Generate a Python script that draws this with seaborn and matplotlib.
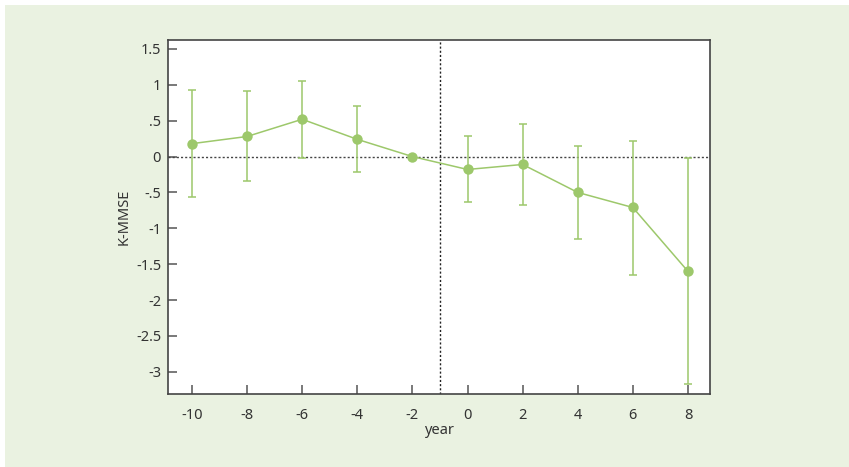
import matplotlib
matplotlib.use("Agg")
import matplotlib.pyplot as plt
import seaborn as sns
import pandas as pd
import numpy as np
from matplotlib.patches import Rectangle

years = [-10, -8, -6, -4, -2, 0, 2, 4, 6, 8]
kmmse = [0.18, 0.28, 0.52, 0.24, 0.0, -0.18, -0.11, -0.50, -0.71, -1.60]
ci_low = [-0.57, -0.34, -0.02, -0.22, 0.0, -0.64, -0.68, -1.15, -1.65, -3.17]
ci_high = [0.93, 0.91, 1.06, 0.70, 0.0, 0.29, 0.46, 0.15, 0.22, -0.02]

yticks = [1.5, 1, 0.5, 0, -0.5, -1, -1.5, -2, -2.5, -3]
ytick_labels = ["1.5", "1", ".5", "0", "-.5", "-1", "-1.5", "-2", "-2.5", "-3"]
xticks = [-10, -8, -6, -4, -2, 0, 2, 4, 6, 8]
xtick_labels = ["-10", "-8", "-6", "-4", "-2", "0", "2", "4", "6", "8"]

sns.set_theme(style="ticks")
plt.rcParams['font.family'] = ['Noto Sans', 'DejaVu Sans']

GREEN_BG = "#EAF2E1"
LINE = "#9DC86B"

fig = plt.figure(figsize=(8.49, 4.67), dpi=100)
fig.patch.set_facecolor("white")
fig.patches.append(Rectangle((5/849, 0), 1, 1 - 5/467, transform=fig.transFigure,
                             facecolor=GREEN_BG, edgecolor="none", zorder=-10))
ax = fig.add_axes([168/849, 1 - 394/467, (710-168)/849, (394-40)/467])
ax.set_facecolor("white")

df = pd.DataFrame({"year": years, "K-MMSE": kmmse})
yerr = np.array([np.array(kmmse) - np.array(ci_low), np.array(ci_high) - np.array(kmmse)])
ax.errorbar(years, kmmse, yerr=yerr, fmt="none", ecolor=LINE, elinewidth=1.1,
            capsize=2.8, capthick=1.1, zorder=2)
sns.lineplot(data=df, x="year", y="K-MMSE", ax=ax, color=LINE, linewidth=1.1,
             marker="o", markersize=7.5, markeredgewidth=0, zorder=3)

ax.axhline(0, color="#444444", linestyle=(0, (1.5, 1.5)), linewidth=1, zorder=1)
ax.axvline(-1, color="#222222", linestyle=(0, (1.5, 1.5)), linewidth=1, zorder=1)

ax.set_xlim(-10.87, 8.8)
ax.set_ylim(-3.31, 1.625)
ax.set_yticks(yticks)
ax.set_yticklabels(ytick_labels)
ax.set_xticks(xticks)
ax.set_xticklabels(xtick_labels)
ax.tick_params(direction="in", length=6.5, width=1.1, color="#555555",
               labelsize=10.5, labelcolor="#333333")
ax.tick_params(axis="x", pad=10)
ax.tick_params(axis="y", pad=5)
for s in ax.spines.values():
    s.set_color("#444444")
    s.set_linewidth(1.2)
    s.set_visible(True)

ax.set_xlabel("year", fontsize=10.5, color="#333333", labelpad=0)
ax.set_ylabel("K-MMSE", fontsize=10.5, color="#333333", labelpad=3)

fig.savefig("out.png", dpi=100, facecolor=fig.get_facecolor())
